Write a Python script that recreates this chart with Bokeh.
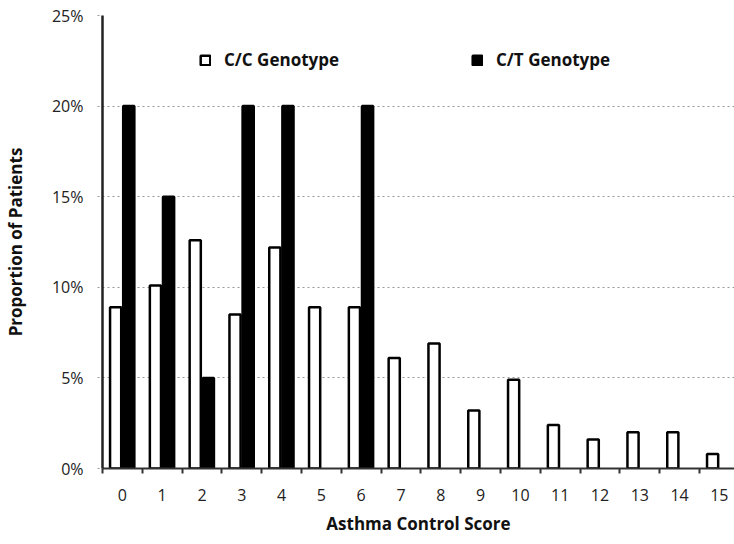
from bokeh.plotting import figure
from bokeh.models import (Range1d, FixedTicker, NumeralTickFormatter, Legend, LegendItem,
                          ColumnDataSource)
from bokeh.transform import dodge
from bokeh.embed import file_html
from bokeh.resources import INLINE

scores = list(range(16))
cc_values = [8.9, 10.1, 12.6, 8.5, 12.2, 8.9, 8.9, 6.1, 6.9, 3.2, 4.9, 2.4, 1.6, 2.0, 2.0, 0.8]
ct_values = [20, 15, 5, 20, 20, 0, 20, 0, 0, 0, 0, 0, 0, 0, 0, 0]
series_names = ["C/C Genotype", "C/T Genotype"]
y_ticks = [0, 0.05, 0.10, 0.15, 0.20, 0.25]

# zero-height bars are not drawn (no outline on the axis)
src = ColumnDataSource(dict(
    x=scores,
    cc=[v / 100 if v > 0 else float("nan") for v in cc_values],
    ct=[v / 100 if v > 0 else float("nan") for v in ct_values],
))

FONT = "Open Sans"

p = figure(width=734, height=544, output_backend="svg", toolbar_location=None,
           x_range=Range1d(-0.5, 15.38), y_range=Range1d(0, 0.25),
           min_border_left=101, min_border_right=0, min_border_top=15, min_border_bottom=76)
p.outline_line_color = None
p.background_fill_color = "white"

r_cc = p.vbar(x=dodge("x", -0.17), top="cc", width=0.28, source=src,
              fill_color="white", line_color="black", line_width=2.5)
r_ct = p.vbar(x=dodge("x", 0.16), top="ct", width=0.28, source=src,
              fill_color="black", line_color="black", line_width=2.5)

# x axis
xa = p.xaxis[0]
xa.ticker = FixedTicker(ticks=scores, minor_ticks=[s - 0.5 for s in scores] + [15.5])
xa.major_tick_in = 0
xa.major_tick_out = 0
xa.minor_tick_in = 0
xa.minor_tick_out = 5
xa.minor_tick_line_color = "#333333"
xa.minor_tick_line_width = 2
xa.axis_line_color = "#333333"
xa.axis_line_width = 2
xa.major_label_standoff = 15
xa.major_label_text_font = FONT
xa.major_label_text_font_size = "16px"
xa.major_label_text_color = "#222222"
xa.axis_label = "Asthma Control Score"
xa.axis_label_text_font = FONT
xa.axis_label_text_font_size = "17px"
xa.axis_label_text_font_style = "bold"
xa.axis_label_text_color = "#111111"
xa.axis_label_standoff = 8

# y axis
ya = p.yaxis[0]
ya.ticker = FixedTicker(ticks=y_ticks, minor_ticks=[])
ya.formatter = NumeralTickFormatter(format="0%")
ya.major_tick_in = 0
ya.major_tick_out = 5
ya.major_tick_line_color = "#999999"
ya.major_tick_line_dash = "2 3"
ya.axis_line_color = "#222222"
ya.axis_line_width = 2.5
ya.major_label_standoff = 14
ya.major_label_text_font = FONT
ya.major_label_text_font_size = "16px"
ya.major_label_text_color = "#222222"
ya.axis_label = "Proportion of Patients"
ya.axis_label_text_font = FONT
ya.axis_label_text_font_size = "17px"
ya.axis_label_text_font_style = "bold"
ya.axis_label_text_color = "#111111"
ya.axis_label_standoff = 22

p.xgrid.grid_line_color = None
p.ygrid.grid_line_color = "#999999"
p.ygrid.grid_line_dash = "2 3"
p.ygrid.grid_line_width = 1

legend = Legend(items=[LegendItem(label=series_names[0], renderers=[r_cc]),
                       LegendItem(label=series_names[1], renderers=[r_ct])],
                orientation="horizontal", location=(97, 397),
                glyph_width=12, glyph_height=12, label_standoff=13, spacing=132,
                padding=0, margin=0, border_line_color=None, background_fill_alpha=0,
                label_text_font=FONT, label_text_font_size="17px",
                label_text_font_style="bold", label_text_color="#111111",
                label_height=20)
p.add_layout(legend)

open("out.html", "w").write(file_html(p, INLINE))
